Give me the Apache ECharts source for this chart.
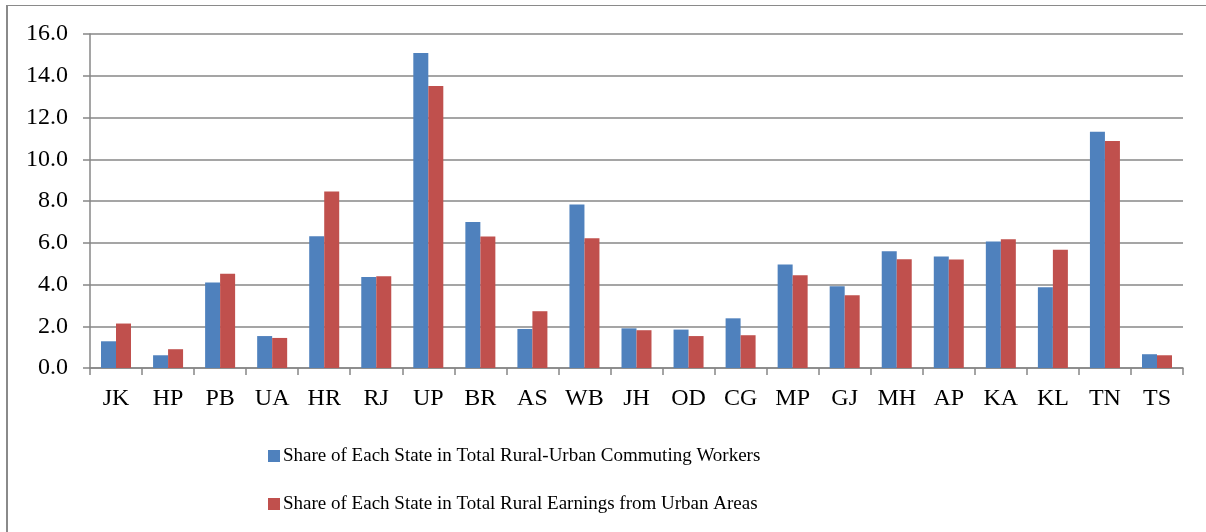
<!DOCTYPE html>
<html>
<head>
<meta charset="utf-8">
<script src="https://cdn.jsdelivr.net/npm/echarts@6/dist/echarts.min.js"></script>
<style>
  html, body { margin: 0; padding: 0; background: #fff; overflow: hidden; }
  .frame {
    position: absolute; left: 6px; top: 5px;
    width: 1300px; height: 600px;
    border-top: 1px solid #8a8a8a; border-left: 2px solid #8a8a8a;
  }
  #chart { position: absolute; left: 0; top: 0; width: 1206px; height: 532px; }
</style>
</head>
<body>
<div class="frame"></div>
<div id="chart"></div>
<script>
  // states along the x axis
  var states = ['JK', 'HP', 'PB', 'UA', 'HR', 'RJ', 'UP', 'BR', 'AS', 'WB', 'JH',
    'OD', 'CG', 'MP', 'GJ', 'MH', 'AP', 'KA', 'KL', 'TN', 'TS'];
  // share of commuting workers (%)
  var workers = [1.28, 0.61, 4.09, 1.53, 6.31, 4.36, 15.09, 6.99, 1.87, 7.83, 1.90,
    1.84, 2.38, 4.96, 3.92, 5.59, 5.34, 6.06, 3.87, 11.32, 0.66];
  // share of rural earnings from urban areas (%)
  var earnings = [2.13, 0.90, 4.51, 1.44, 8.46, 4.40, 13.51, 6.30, 2.72, 6.22, 1.81,
    1.53, 1.57, 4.44, 3.48, 5.21, 5.20, 6.17, 5.66, 10.87, 0.61];
  var yTicks = [0, 2, 4, 6, 8, 10, 12, 14, 16];

  var serif = '"Liberation Serif", "DejaVu Serif", serif';
  var gray = '#878787';

  var chart = echarts.init(document.getElementById('chart'));
  chart.setOption({
    animation: false,
    textStyle: { fontFamily: serif },
    grid: { left: 90, right: 23, top: 34, bottom: 164 },
    legend: {
      orient: 'vertical',
      left: 263,
      top: 439,
      itemWidth: 12,
      itemHeight: 12,
      itemGap: 24,
      icon: 'rect',
      textStyle: { fontFamily: serif, fontSize: 19, color: '#000', padding: [0, 0, 0, -2], lineHeight: 24 },
      data: ['Share of Each State in Total Rural-Urban Commuting Workers',
        'Share of Each State in Total Rural Earnings from Urban Areas']
    },
    xAxis: {
      type: 'category',
      data: states,
      axisLine: { lineStyle: { color: gray, width: 1.5 } },
      axisTick: { show: true, length: 7, lineStyle: { color: gray, width: 1.5 } },
      axisLabel: { color: '#000', fontSize: 24, fontFamily: serif, margin: 19 }
    },
    yAxis: {
      type: 'value',
      min: yTicks[0],
      max: yTicks[yTicks.length - 1],
      interval: 2,
      axisLine: { show: true, lineStyle: { color: gray, width: 1.5 } },
      axisTick: { show: true, length: 7, lineStyle: { color: gray, width: 1.5 } },
      splitLine: { lineStyle: { color: gray, width: 1.5 } },
      axisLabel: {
        color: '#000', fontSize: 24, fontFamily: serif, margin: 22,
        formatter: function (v) { return v.toFixed(1); }
      }
    },
    series: [
      {
        name: 'Share of Each State in Total Rural-Urban Commuting Workers',
        type: 'bar',
        data: workers,
        barWidth: 15,
        barGap: '0%',
        itemStyle: { color: '#4F81BD' }
      },
      {
        name: 'Share of Each State in Total Rural Earnings from Urban Areas',
        type: 'bar',
        data: earnings,
        barWidth: 15,
        barGap: '0%',
        itemStyle: { color: '#C0504D' }
      }
    ]
  });
</script>
</body>
</html>
